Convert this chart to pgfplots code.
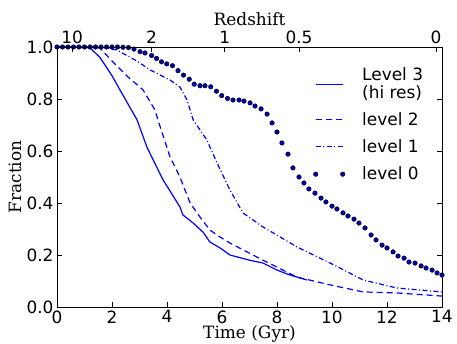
\documentclass[border=0pt]{standalone}
\usepackage{fontspec}
\usepackage{pgfplots}
\pgfplotsset{compat=1.18}
\newfontfamily\dejavu{DejaVu Sans}
\newfontfamily\dejaserif{DejaVu Serif}
\begin{document}
\begin{tikzpicture}
\pgfplotsset{
  base/.style={
    at={(57bp,37bp)}, anchor=south west, scale only axis,
    width=385bp, height=260bp,
    xmin=0, xmax=14, ymin=0, ymax=1,
    tick align=inside, major tick length=5bp,
    every tick/.style={black, line width=0.6bp},
    axis line style={line width=0.8bp},
    ticklabel style={font=\dejavu\fontsize{17}{18.5}\selectfont},
    /pgf/number format/assume math mode=true,
    label style={font=\dejaserif\fontsize{17}{18.5}\selectfont},
  }
}
\begin{axis}[base,
  xtick={0,2,4,6,8,10,12,14},
  xticklabels={0,2,4,6,8,10,12,14},
  ytick={0,0.2,0.4,0.6,0.8,1},
  yticklabels={0.0,0.2,0.4,0.6,0.8,1.0},
  xtick pos=bottom, ytick pos=both,
  xlabel={Time (Gyr)}, ylabel={Fraction},
  xlabel style={at={(axis description cs:0.5,-0.123)}, anchor=base},
  ylabel style={at={(axis description cs:-0.109,0.5)}, anchor=center},
  legend style={at={(axis description cs:0.665,0.925)}, anchor=north west,
    draw=none, fill=none, inner sep=0pt,
    nodes={inner sep=0pt, text depth=, text height=},
    font=\dejavu\fontsize{17}{18.5}\selectfont,
    row sep=0pt, column sep=17bp, cells={anchor=base west}},
]
\addplot[blue, line width=1.2bp,
  legend image code/.code={\draw[blue, line width=1.2bp] (0bp,-4bp) -- (27bp,-4bp);}]
coordinates {
(0,1.0) (0.84,1.0) (1.2,0.997) (1.56,0.96) (2.0,0.89) (2.29,0.835) (2.91,0.72)
(3.27,0.615) (3.85,0.49) (4.47,0.385) (4.58,0.354) (4.95,0.323) (5.31,0.288)
(5.56,0.25) (5.93,0.227) (6.29,0.2) (7.0,0.18) (7.49,0.169) (8.0,0.142) (8.47,0.123) (9.09,0.104)
};
\addlegendentry{\raisebox{0pt}[13.5bp][9bp]{Level 3}}
\addlegendimage{empty legend}
\addlegendentry{\raisebox{0pt}[9bp][13.5bp]{(hi res)}}
\addplot[blue, line width=1.2bp, dash pattern=on 6bp off 4bp,
  legend image code/.code={\draw[blue, line width=1.2bp, dash pattern=on 6bp off 4bp] (0bp,6bp) -- (27bp,6bp);}]
coordinates {
(0,1.0) (1.2,1.0) (1.56,0.996) (2.04,0.942) (2.58,0.885) (3.13,0.835) (3.56,0.758)
(3.67,0.72) (4.1,0.58) (4.47,0.5) (4.84,0.4) (5.2,0.346) (5.56,0.296) (5.93,0.269)
(6.29,0.246) (7.49,0.18) (8.73,0.115) (9.93,0.085) (11.13,0.058) (12.36,0.054) (14,0.042)
};
\addlegendentry{\raisebox{0pt}[13.5bp][13.5bp]{level 2}}
\addplot[blue, line width=1.2bp, dash pattern=on 5bp off 2.5bp on 1bp off 2.5bp,
  legend image code/.code={\draw[blue, line width=1.2bp, dash pattern=on 5bp off 2.5bp on 1bp off 2.5bp] (0bp,6bp) -- (27bp,6bp);}]
coordinates {
(0,1.0) (1.6,1.0) (2.18,0.988) (2.91,0.946) (3.38,0.912) (4.11,0.873) (4.47,0.846)
(4.73,0.796) (4.95,0.72) (5.45,0.642) (5.82,0.554) (6.29,0.45) (6.76,0.362)
(7.49,0.308) (8.73,0.231) (9.93,0.169) (10.29,0.15) (11.13,0.104) (12.36,0.073) (14,0.058)
};
\addlegendentry{\raisebox{0pt}[13.5bp][13.5bp]{level 1}}
\addplot[only marks, mark=*, mark size=2.3bp,
  mark options={fill=blue!70!black, draw=black, line width=0.4bp},
  legend image code/.code={\filldraw[fill=blue!70!black, draw=black, line width=0.4bp] (0bp,5bp) circle (2.3bp) (27bp,5bp) circle (2.3bp);}]
coordinates {
(0,1.0) (0.2,1.0) (0.4,1.0) (0.6,1.0) (0.8,1.0) (1.0,1.0) (1.2,1.0) (1.4,1.0)
(1.6,1.0) (1.8,1.0) (2.0,1.0) (2.2,1.0) (2.4,0.999) (2.6,0.998) (2.8,0.992) (3.02,0.982)
(3.2,0.977) (3.44,0.967) (3.62,0.956) (3.8,0.943) (3.99,0.935) (4.2,0.928) (4.4,0.909)
(4.6,0.892) (4.81,0.876) (4.99,0.857) (5.2,0.851) (5.38,0.851) (5.59,0.847) (5.8,0.83)
(5.99,0.813) (6.2,0.802) (6.4,0.796) (6.62,0.796) (6.8,0.792) (7.02,0.785) (7.2,0.773)
(7.42,0.762) (7.64,0.742) (7.82,0.708) (8.0,0.673) (8.18,0.631) (8.4,0.588) (8.58,0.535)
(8.8,0.5) (8.98,0.477) (9.16,0.454) (9.38,0.438) (9.6,0.419) (9.78,0.404) (10.0,0.388)
(10.18,0.377) (10.4,0.362) (10.58,0.35) (10.8,0.338) (10.98,0.323) (11.2,0.304)
(11.42,0.277) (11.6,0.258) (11.82,0.238) (12.0,0.227) (12.22,0.212) (12.4,0.196)
(12.62,0.188) (12.8,0.173) (13.02,0.169) (13.24,0.158) (13.42,0.15) (13.64,0.142)
(13.82,0.131) (14.0,0.123)
};
\addlegendentry{\raisebox{0pt}[13.5bp][13.5bp]{level 0}}
\end{axis}
\begin{axis}[base,
  axis x line*=top, axis y line=none,
  xtick={0.55,3.44,6.1,8.8,13.78},
  xticklabels={10,2,1,0.5,0},
  xlabel={Redshift},
  xlabel style={at={(axis description cs:0.5,1.081)}, anchor=base},
]
\end{axis}
\pgfresetboundingbox
\useasboundingbox (0,0) rectangle (457bp,344bp);
\end{tikzpicture}
\end{document}
